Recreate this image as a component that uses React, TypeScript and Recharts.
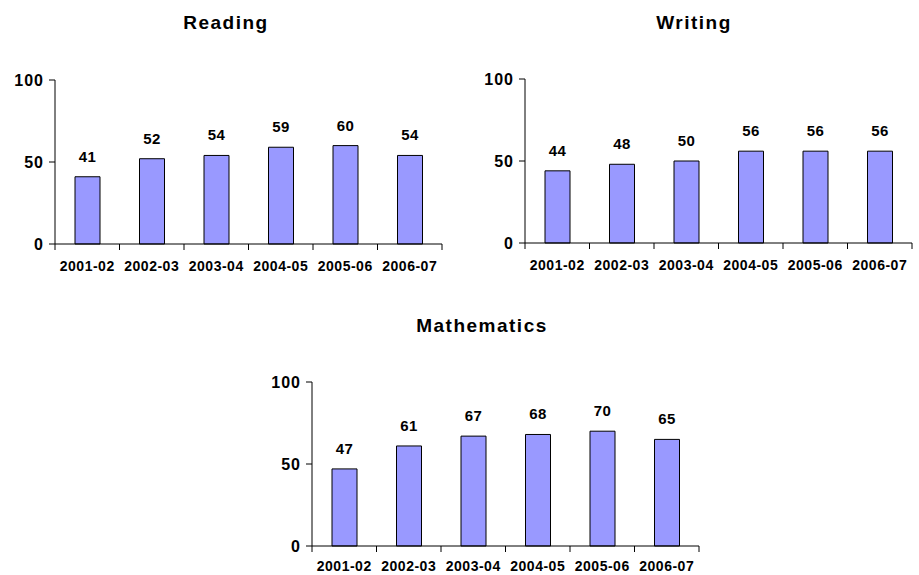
import { Bar, BarChart, LabelList, XAxis, YAxis } from "recharts";

const years = ["2001-02", "2002-03", "2003-04", "2004-05", "2005-06", "2006-07"];
const reading = [41, 52, 54, 59, 60, 54];
const writing = [44, 48, 50, 56, 56, 56];
const mathematics = [47, 61, 67, 68, 70, 65];
const yTicks = [0, 50, 100];

const FONT = "Arial, 'Liberation Sans', sans-serif";
const TICK = 6;

// category label + tick marks on the band edges (Excel style)
function makeYearTick(gap: number) {
  return function YearTick(props: any) {
    const { x, y, payload, index, visibleTicksCount } = props;
    const half = payload.offset || 0;
    const axisY = y - gap - TICK;
    const last = index === visibleTicksCount - 1;
    return (
      <g>
        <line x1={x - half} x2={x - half} y1={axisY} y2={axisY + TICK} stroke="#000" />
        {last && <line x1={x + half} x2={x + half} y1={axisY} y2={axisY + TICK} stroke="#000" />}
        <text
          x={x}
          y={y}
          dy="0.71em"
          textAnchor="middle"
          fill="#000"
          fontSize={14}
          fontWeight="bold"
          fontFamily={FONT}
          letterSpacing={0.5}
        >
          {payload.value}
        </text>
      </g>
    );
  };
}

function Panel({
  title,
  values,
  left,
  top,
  titleCenter,
  titleTop,
  labelGap = 11,
}: {
  title: string;
  values: number[];
  left: number;
  top: number;
  titleCenter: number;
  titleTop: number;
  labelGap?: number;
}) {
  const data = years.map((year, i) => ({ year, value: values[i] }));
  return (
    <>
      <div
        style={{
          position: "absolute",
          left: titleCenter - 150,
          top: titleTop,
          width: 300,
          textAlign: "center",
          fontFamily: FONT,
          fontWeight: "bold",
          fontSize: 19,
          lineHeight: "19px",
          letterSpacing: 1.5,
        }}
      >
        {title}
      </div>
      <div style={{ position: "absolute", left, top }}>
        <BarChart
          width={447}
          height={214}
          data={data}
          margin={{ top: 20, right: 5, bottom: 0, left: 10 }}
        >
          <XAxis
            dataKey="year"
            height={30}
            tickLine={false}
            tickSize={TICK}
            tickMargin={labelGap}
            axisLine={{ stroke: "#000" }}
            tick={makeYearTick(labelGap)}
            interval={0}
          />
          <YAxis
            width={45}
            domain={[0, 100]}
            ticks={yTicks}
            tickSize={TICK}
            tickMargin={5}
            axisLine={{ stroke: "#000" }}
            tickLine={{ stroke: "#000" }}
            tick={{
              fill: "#000",
              fontSize: 16,
              fontWeight: "bold",
              fontFamily: FONT,
              letterSpacing: 1,
            }}
          />
          <Bar
            dataKey="value"
            fill="#9999FF"
            stroke="#000"
            strokeWidth={1}
            barSize={25}
            isAnimationActive={false}
          >
            <LabelList
              dataKey="value"
              position="top"
              offset={15}
              fill="#000"
              fontSize={15}
              fontWeight="bold"
              fontFamily={FONT}
              letterSpacing={0.5}
            />
          </Bar>
        </BarChart>
      </div>
    </>
  );
}

export default function App() {
  return (
    <div
      style={{
        position: "absolute",
        left: 0,
        top: 0,
        width: 919,
        height: 575,
        overflow: "hidden",
        background: "#fff",
      }}
    >
      <Panel title="Reading" values={reading} left={0} top={60} titleCenter={226} titleTop={13} />
      <Panel title="Writing" values={writing} left={470} top={59} titleCenter={694} titleTop={13} />
      <Panel
        title="Mathematics"
        values={mathematics}
        left={257}
        top={362}
        titleCenter={482}
        titleTop={316}
        labelGap={9}
      />
    </div>
  );
}
